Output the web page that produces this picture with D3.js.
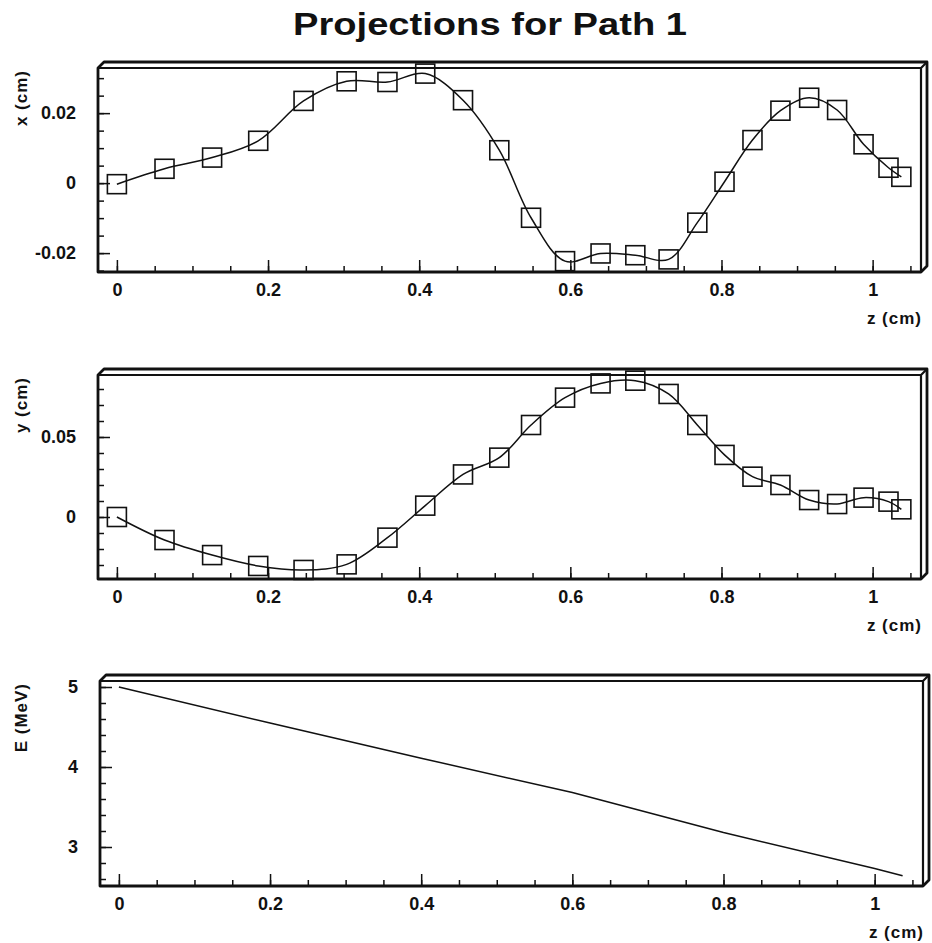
<!DOCTYPE html>
<html>
<head>
<meta charset="utf-8">
<script src="https://cdn.jsdelivr.net/npm/d3@7"></script>
<style>
body { margin: 0; background: #fff; }
svg text { font-family: "Liberation Sans", Arial, Helvetica, sans-serif; font-weight: bold; fill: #111; }
.tick text { font-size: 18px; }
.tick line { stroke: #111; stroke-width: 1.5; }
</style>
</head>
<body>
<svg id="proj" width="932" height="943"></svg>
<script>
// fitted points along the path, z in cm
var zPoints = [0, 0.063, 0.126, 0.187, 0.247, 0.304, 0.358, 0.408, 0.458, 0.506, 0.548, 0.593,
               0.640, 0.686, 0.730, 0.768, 0.804, 0.841, 0.878, 0.916, 0.953, 0.988, 1.021, 1.038];
var xPoints = [-0.0003, 0.0041, 0.0073, 0.0121, 0.0235, 0.0291, 0.0289, 0.0313, 0.0237, 0.0094, -0.0099, -0.0223,
               -0.0201, -0.0206, -0.0218, -0.0113, 0.0004, 0.0123, 0.0207, 0.0244, 0.0209, 0.0111, 0.0044, 0.0018];
var yPoints = [0, -0.0144, -0.0238, -0.0306, -0.0331, -0.0296, -0.0129, 0.0071, 0.0266, 0.0371, 0.0575, 0.0746,
               0.0835, 0.0852, 0.0769, 0.0575, 0.0388, 0.0252, 0.0200, 0.0106, 0.0081, 0.0121, 0.0096, 0.0048];

// energy loss along the path
var zEnergy = [0, 0.2, 0.4, 0.6, 0.8, 1.0, 1.037];
var energy = [5.0, 4.55, 4.11, 3.68, 3.18, 2.73, 2.64];

// tick labels
var zTicks = [0, 0.2, 0.4, 0.6, 0.8, 1];
var xTicks = [-0.02, 0, 0.02];
var yTicks = [0, 0.05];
var eTicks = [3, 4, 5];

var svg = d3.select("#proj");

svg.append("text")
    .attr("x", 490)
    .attr("y", 35)
    .attr("text-anchor", "middle")
    .attr("textLength", 394)
    .attr("lengthAdjust", "spacingAndGlyphs")
    .style("font-size", "31px")
    .text("Projections for Path 1");

var panels = [
  {top: 68, bottom: 272, left: 98, right: 921, yDomain: [-0.0254, 0.0329], ticks: xTicks, minor: 0.005,
   label: "x (cm)", z: zPoints, values: xPoints, marks: true},
  {top: 375, bottom: 579, left: 98, right: 921, yDomain: [-0.03875, 0.08875], ticks: yTicks, minor: 0.01,
   label: "y (cm)", z: zPoints, values: yPoints, marks: true},
  {top: 681, bottom: 886, left: 100, right: 923, yDomain: [2.5125, 5.075], ticks: eTicks, minor: 0.2,
   label: "E (MeV)", z: zEnergy, values: energy, marks: false}
];

panels.forEach(drawPanel);

function minorTicks(domain, step) {
  var lo = Math.ceil(domain[0] / step - 1e-9), hi = Math.floor(domain[1] / step + 1e-9);
  return d3.range(lo, hi + 1).map(function(i) { return +(i * step).toFixed(6); });
}

function drawPanel(p) {
  var g = svg.append("g");
  var x = d3.scaleLinear().domain([-0.025, 1.064]).range([p.left, p.right]);
  var y = d3.scaleLinear().domain(p.yDomain).range([p.bottom, p.top]);

  // minor ticks, pointing inwards
  g.append("g")
      .attr("transform", "translate(0," + p.bottom + ")")
      .call(d3.axisBottom(x).tickValues(minorTicks(x.domain(), 0.05)).tickSizeInner(-6).tickSizeOuter(0).tickFormat(""))
      .call(function(a) { a.select(".domain").remove(); });
  g.append("g")
      .attr("transform", "translate(" + p.left + ",0)")
      .call(d3.axisLeft(y).tickValues(minorTicks(y.domain(), p.minor)).tickSizeInner(-6).tickSizeOuter(0).tickFormat(""))
      .call(function(a) { a.select(".domain").remove(); });

  // major ticks with labels
  g.append("g")
      .attr("transform", "translate(0," + p.bottom + ")")
      .call(d3.axisBottom(x).tickValues(zTicks).tickSizeInner(-12).tickSizeOuter(0).tickPadding(11).tickFormat(function(d) { return d; }))
      .call(function(a) { a.select(".domain").remove(); a.attr("font-size", null).attr("font-family", null); });
  g.append("g")
      .attr("transform", "translate(" + p.left + ",0)")
      .call(d3.axisLeft(y).tickValues(p.ticks).tickSizeInner(-12).tickSizeOuter(0).tickPadding(22).tickFormat(function(d) { return d; }))
      .call(function(a) { a.select(".domain").remove(); a.attr("font-size", null).attr("font-family", null); });

  // 3D style frame
  var d = 6;
  g.append("path")
      .attr("d", "M" + p.left + "," + p.bottom + "V" + p.top + "L" + (p.left + d) + "," + (p.top - d) +
                 "H" + (p.right + d) + "V" + (p.bottom - d) + "L" + p.right + "," + p.bottom + "Z")
      .attr("fill", "none")
      .attr("stroke", "#111")
      .attr("stroke-width", 2.8)
      .attr("stroke-linejoin", "round");
  g.append("path")
      .attr("d", "M" + p.left + "," + p.top + "H" + p.right + "V" + p.bottom +
                 "M" + p.right + "," + p.top + "L" + (p.right + d) + "," + (p.top - d))
      .attr("fill", "none")
      .attr("stroke", "#111")
      .attr("stroke-width", 2.2);

  // axis titles
  g.append("text")
      .attr("transform", "translate(27," + (p.top + 2) + ") rotate(-90)")
      .attr("text-anchor", "end")
      .style("font-size", "17px")
      .style("letter-spacing", "1px")
      .text(p.label);
  g.append("text")
      .attr("x", p.right + 1)
      .attr("y", p.bottom + 52)
      .attr("text-anchor", "end")
      .style("font-size", "17px")
      .style("letter-spacing", "1px")
      .text("z (cm)");

  var pts = p.z.map(function(z, i) { return [z, p.values[i]]; });

  var line = d3.line()
      .x(function(d) { return x(d[0]); })
      .y(function(d) { return y(d[1]); })
      .curve(p.marks ? d3.curveCatmullRom.alpha(0.5) : d3.curveLinear);

  g.append("path")
      .datum(pts)
      .attr("d", line)
      .attr("fill", "none")
      .attr("stroke", "#111")
      .attr("stroke-width", 1.5);

  if (p.marks) {
    g.selectAll("rect.mark")
        .data(pts)
        .enter().append("rect")
        .attr("class", "mark")
        .attr("x", function(d) { return x(d[0]) - 9.5; })
        .attr("y", function(d) { return y(d[1]) - 9.5; })
        .attr("width", 19)
        .attr("height", 19)
        .attr("fill", "none")
        .attr("stroke", "#111")
        .attr("stroke-width", 1.6);
  }
}
</script>
</body>
</html>
